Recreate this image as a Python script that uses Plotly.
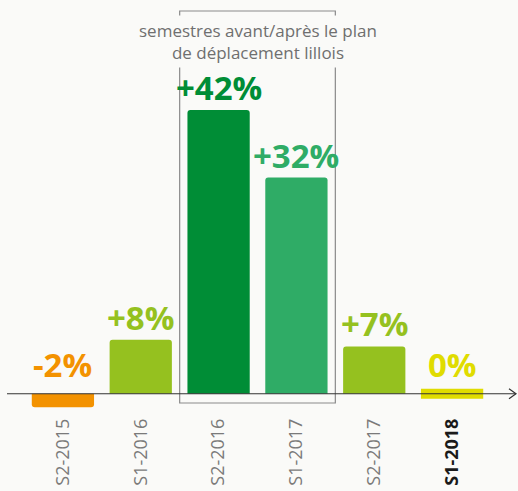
import plotly.graph_objects as go

categories = ["S2-2015", "S1-2016", "S2-2016", "S1-2017", "S2-2017", "S1-2018"]
values = [-2, 8, 42, 32, 7, 0]
labels = ["-2%", "+8%", "+42%", "+32%", "+7%", "0%"]
colors = ["#f39200", "#95c11f", "#008d36", "#2fac66", "#95c11f", "#e0dc00"]
tick_text = ["S2-2015", "S1-2016", "S2-2016", "S1-2017", "S2-2017",
             "<b><span style='color:#1a1a1a'>S1-2018</span></b>"]
box_title = "semestres avant/après le plan<br>de déplacement lillois"

BG = "#fafaf8"
W, H = 518, 491
L, R, T, B = 24, 27, 56, 77
pw = W - L - R
yr = [-3, 50]

fig = go.Figure()
fig.add_trace(go.Bar(
    x=categories, y=values,
    marker=dict(color=colors, cornerradius=3,
                line=dict(color=colors, width=[0 if v != 0 else 10 for v in values])),
    width=0.8, hoverinfo="skip",
))

for c, v, lab, col in zip(categories, values, labels, colors):
    fig.add_annotation(x=c, y=max(v, 0), text=f"<b>{lab}</b>", showarrow=False,
                       yanchor="bottom", yshift=-2 if v > 0 else 5,
                       font=dict(family="Open Sans", size=33, color=col))

# axis line with open arrow
def px2paper(px):
    return (px - L) / pw

upp = (yr[1] - yr[0]) / (H - T - B)  # units per pixel
fig.add_shape(type="line", xref="paper", yref="y", x0=px2paper(7), x1=px2paper(516),
              y0=0, y1=0, line=dict(color="#333333", width=1.2))
fig.add_shape(type="path", xref="paper", yref="y",
              path=f"M {px2paper(509)} {5*upp} L {px2paper(516)} 0 L {px2paper(509)} {-5*upp}",
              line=dict(color="#333333", width=1.2))

# highlight box
fig.add_shape(type="rect", xref="x", yref="paper", x0=1.5, x1=3.5,
              y0=(H - B - 403) / (H - T - B), y1=(H - B - 11) / (H - T - B),
              line=dict(color="#8a8a8a", width=1.2), layer="below")
fig.add_annotation(xref="x", yref="paper", x=2.5, y=(H - B - 41) / (H - T - B),
                   yanchor="middle", xanchor="center",
                   text=box_title, showarrow=False, bgcolor=BG, borderpad=3,
                   font=dict(family="Open Sans", size=17, color="#6f6f6f"))

fig.update_layout(
    width=W, height=H, margin=dict(l=L, r=R, t=T, b=B, autoexpand=False),
    paper_bgcolor=BG, plot_bgcolor=BG, showlegend=False, bargap=0.2,
    xaxis=dict(tickmode="array", tickvals=categories, ticktext=tick_text,
               tickangle=-90, showgrid=False, zeroline=False, showline=False,
               automargin=False,
               ticks="", tickfont=dict(family="Open Sans", size=18, color="#7a7a7a"),
               range=[-0.5, 5.5]),
    yaxis=dict(range=yr, visible=False, showgrid=False, zeroline=False, automargin=False),
)

fig.write_html("out.html", config={"displayModeBar": False, "staticPlot": True},
               post_script=f"document.body.style.margin='0';document.body.style.background='{BG}';document.body.style.overflow='hidden';")
